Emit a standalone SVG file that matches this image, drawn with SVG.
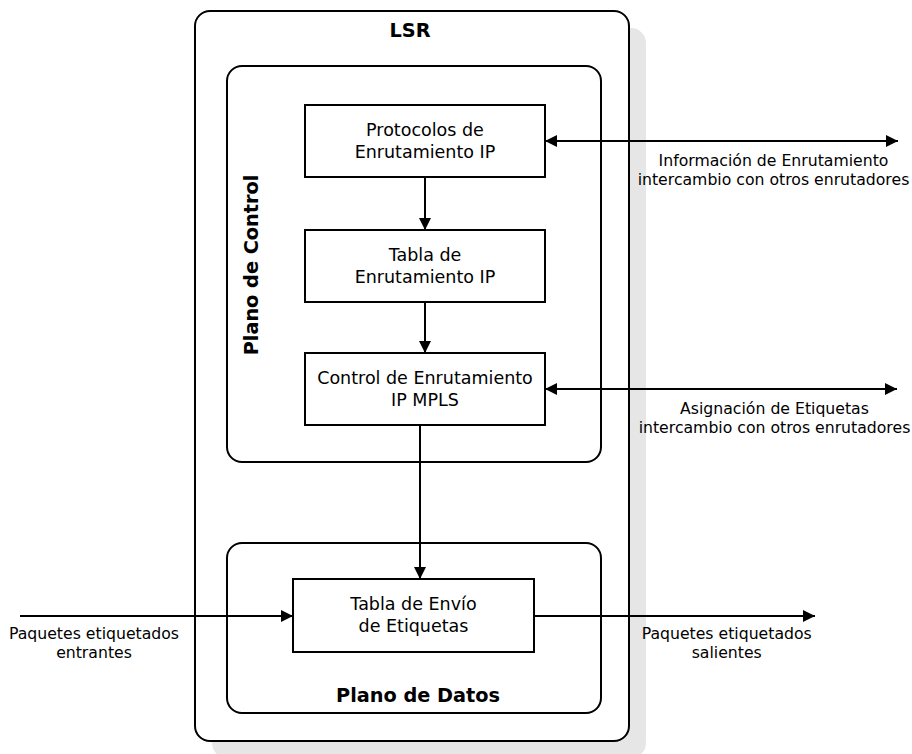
<svg xmlns="http://www.w3.org/2000/svg" width="912" height="754" viewBox="0 0 912 754">
  <style>
    .frame { fill: #ffffff; stroke: #000000; stroke-width: 2; }
    .node { fill: #ffffff; stroke: #000000; stroke-width: 2; }
    .t { font-family: "DejaVu Sans", Verdana, sans-serif; fill: #000000; text-anchor: middle; }
    .box { font-size: 17.5px; }
    .lbl { font-size: 15.7px; }
    .bold { font-size: 19.3px; font-weight: bold; }
    .edge { fill: none; stroke: #000000; stroke-width: 2; }
  </style>
  <defs>
    <marker id="arr" markerUnits="userSpaceOnUse" markerWidth="13" markerHeight="13" refX="12" refY="6" orient="auto-start-reverse" viewBox="0 0 13 13">
      <path d="M0,0 L12,6 L0,12 Z" fill="#000000"/>
    </marker>
  </defs>

  <g id="lsr">
    <rect x="212" y="28" width="434" height="730" rx="15" ry="15" fill="#e6e6e6"/>
    <rect class="frame" x="195" y="11" width="434" height="730" rx="15" ry="15"/>
    <text class="t bold" x="410" y="36.5">LSR</text>
  </g>

  <g id="plano-control">
    <rect class="frame" x="227" y="66" width="374" height="396" rx="15" ry="15"/>
    <text class="t bold" transform="translate(258,265) rotate(-90)" x="0" y="0">Plano de Control</text>
  </g>

  <g id="plano-datos">
    <rect class="frame" x="227" y="543" width="374" height="170" rx="15" ry="15"/>
    <text class="t bold" x="418" y="701.5">Plano de Datos</text>
  </g>

  <g id="protocolos">
    <rect class="node" x="305" y="105" width="240" height="72"/>
    <text class="t box" x="425" y="136">Protocolos de</text>
    <text class="t box" x="425" y="157.5">Enrutamiento IP</text>
  </g>

  <g id="tabla-enrutamiento">
    <rect class="node" x="305" y="230" width="240" height="72"/>
    <text class="t box" x="425" y="261">Tabla de</text>
    <text class="t box" x="425" y="282.5">Enrutamiento IP</text>
  </g>

  <g id="control-mpls">
    <rect class="node" x="305" y="353" width="240" height="72"/>
    <text class="t box" x="425" y="384">Control de Enrutamiento</text>
    <text class="t box" x="425" y="405.5">IP MPLS</text>
  </g>

  <g id="tabla-envio">
    <rect class="node" x="293" y="579" width="241" height="73"/>
    <text class="t box" x="413.5" y="610">Tabla de Envío</text>
    <text class="t box" x="413.5" y="631.5">de Etiquetas</text>
  </g>

  <g id="connectors">
    <line class="edge" x1="425" y1="177" x2="425" y2="230" marker-end="url(#arr)"/>
    <line class="edge" x1="425" y1="302" x2="425" y2="353" marker-end="url(#arr)"/>
    <line class="edge" x1="420" y1="425" x2="420" y2="579" marker-end="url(#arr)"/>
    <line class="edge" x1="545" y1="141" x2="898" y2="141" marker-start="url(#arr)" marker-end="url(#arr)"/>
    <line class="edge" x1="545" y1="389" x2="897" y2="389" marker-start="url(#arr)" marker-end="url(#arr)"/>
    <line class="edge" x1="20" y1="616" x2="293" y2="616" marker-end="url(#arr)"/>
    <line class="edge" x1="534" y1="616" x2="815" y2="616" marker-end="url(#arr)"/>
  </g>

  <g id="labels">
    <text class="t lbl" x="773.5" y="166">Información de Enrutamiento</text>
    <text class="t lbl" x="773.5" y="185">intercambio con otros enrutadores</text>
    <text class="t lbl" x="774.5" y="414">Asignación de Etiquetas</text>
    <text class="t lbl" x="774.5" y="433">intercambio con otros enrutadores</text>
    <text class="t lbl" x="94" y="639">Paquetes etiquetados</text>
    <text class="t lbl" x="94" y="657.5">entrantes</text>
    <text class="t lbl" x="726.7" y="639">Paquetes etiquetados</text>
    <text class="t lbl" x="726.7" y="657.5">salientes</text>
  </g>
</svg>
